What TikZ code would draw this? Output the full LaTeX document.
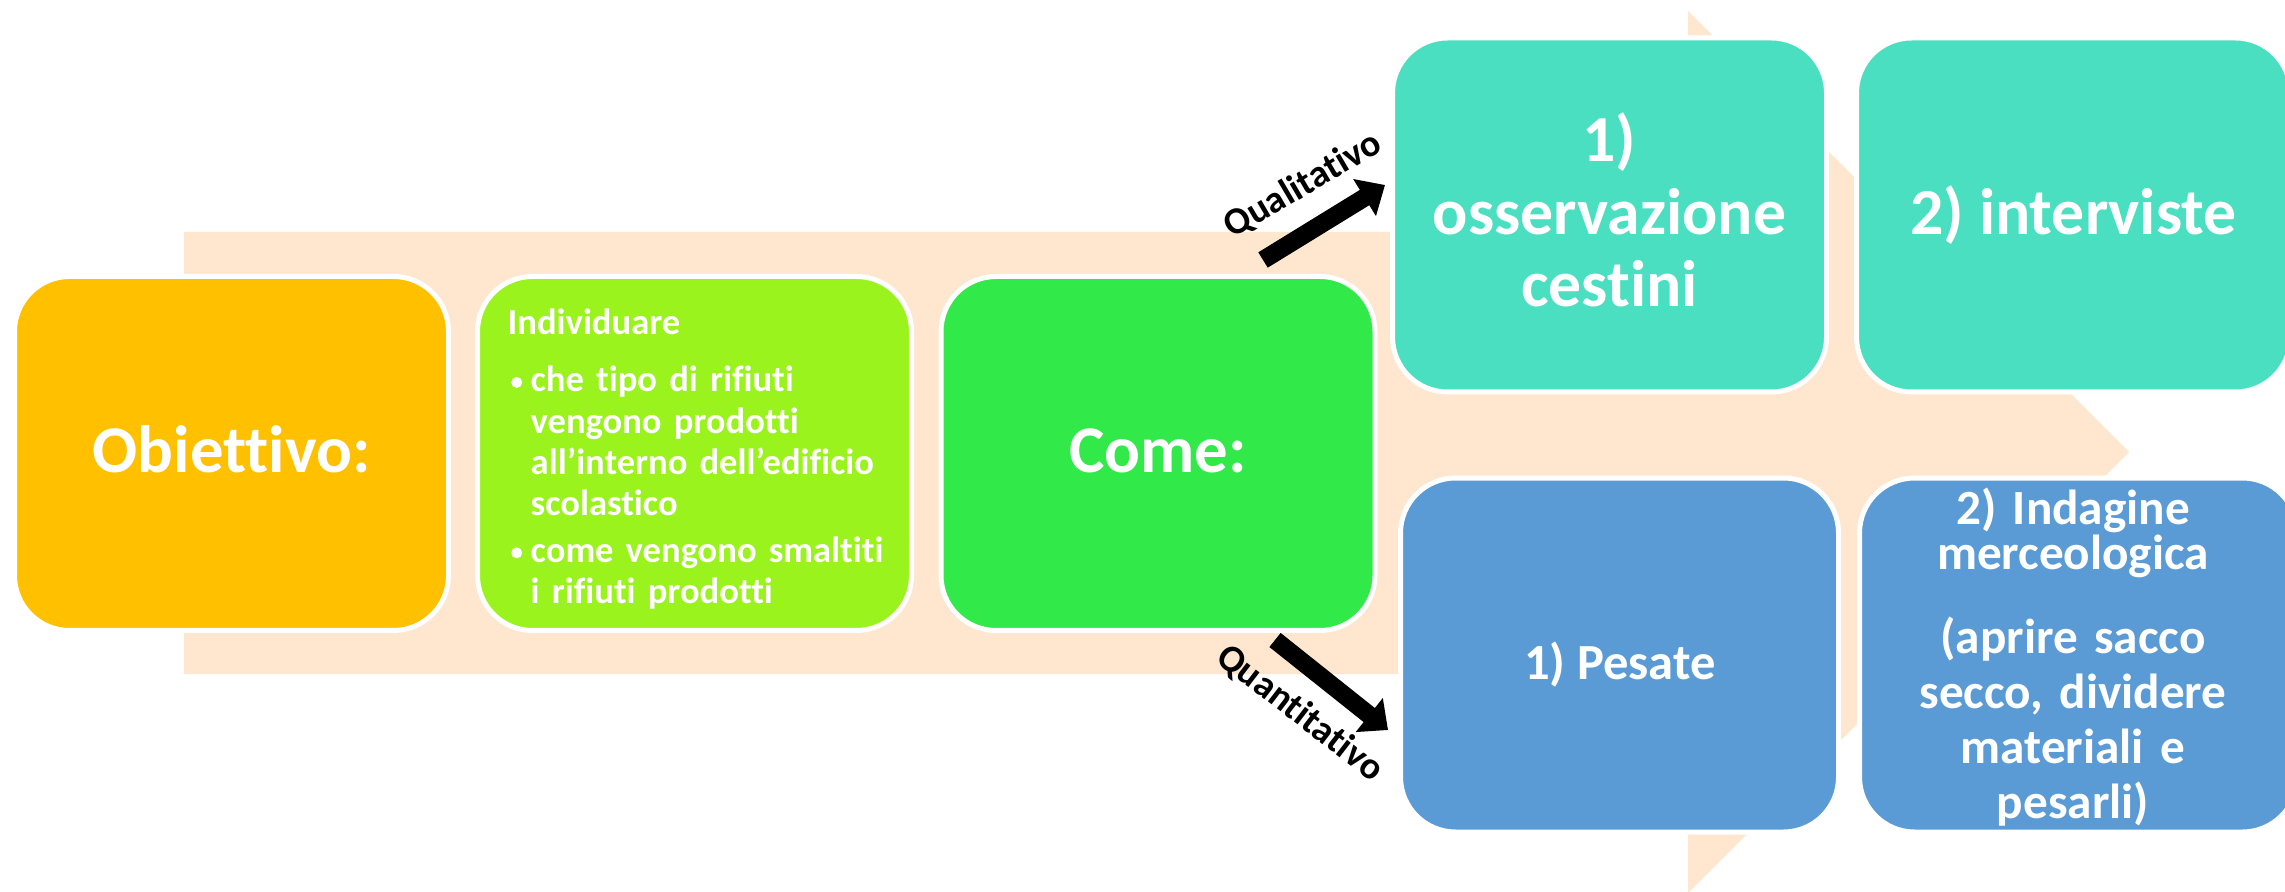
\documentclass[tikz,border=0pt]{standalone}
\usepackage{fontspec}
\setmainfont{Carlito}[Ligatures={TeX,NoCommon}]
\usetikzlibrary{arrows.meta}
\definecolor{peach}{RGB}{254,231,206}
\definecolor{orangeb}{RGB}{255,192,0}
\definecolor{limeb}{RGB}{154,243,29}
\definecolor{greenb}{RGB}{50,233,74}
\definecolor{tealb}{RGB}{74,223,192}
\definecolor{blueb}{RGB}{91,155,213}
\newcommand{\mybul}{\makebox[2.3mm][l]{\hspace*{0.35mm}\tikz[baseline=0pt]\fill[white] (0.55mm,0.95mm) circle (0.55mm);}}
\begin{document}
\begin{tikzpicture}[x=0.1mm,y=-0.1mm,
  box/.style={draw=white, line width=0.5mm, rounded corners=5.5mm, minimum width=43.4mm, minimum height=35.4mm, inner sep=0pt},
  txt/.style={text=white, align=center, inner sep=0pt},
  bigarrow/.style={line width=1.8mm, -{Triangle[width=4.2mm,length=2.4mm]}, black},
  lbl/.style={font=\bfseries\fontsize{10.8}{12}\selectfont, inner sep=0pt, text=black}]
\clip (0,0) rectangle (2285,892);
\fill[white] (0,0) rectangle (2285,892);
% background process arrow
\fill[peach] (184,232) -- (1688,232) -- (1688,11) -- (2129,452) -- (1688,893) -- (1688,674) -- (184,674) -- cycle;
% boxes
\node[box, fill=orangeb] (obj) at (231.5,453.5) {};
\node[box, fill=limeb] (ind) at (694.5,453.5) {};
\node[box, fill=greenb] (come) at (1158,453.5) {};
\node[box, fill=tealb] (t1) at (1609.5,215) {};
\node[box, fill=tealb] (t2) at (2073.5,215) {};
\node[box, fill=blueb, minimum width=43.8mm] (b1) at (1619.5,655) {};
\node[box, fill=blueb, minimum width=43.8mm] (b2) at (2078.5,655) {};
% texts
\node[txt, anchor=base, font=\bfseries\fontsize{19}{22}\selectfont] (objt) at (231.5,473) {Obiettivo:};
\node[txt, anchor=base, font=\bfseries\fontsize{19}{22}\selectfont] (comet) at (1158,473) {Come:};
\node[anchor=base west, text width=40mm, align=left, inner sep=0pt, text=white, font=\bfseries\fontsize{10.4}{11.7}\selectfont] (indt) at (507,335) {Individuare\\[4.5pt]
\mybul che tipo di rifiuti\\
\hspace*{2.3mm}vengono prodotti\\
\hspace*{2.3mm}all’interno dell’edificio\\
\hspace*{2.3mm}scolastico\\[1.7pt]
\mybul come vengono smaltiti\\
\hspace*{2.3mm}i rifiuti prodotti};
\node[txt, anchor=base, text width=42mm, font=\bfseries\fontsize{18.7}{20.6}\selectfont] (t1t) at (1609.5,162) {1)\\osservazione\\cestini};
\node[txt, anchor=base, font=\bfseries\fontsize{18.7}{20.6}\selectfont] (t2t) at (2073.5,235) {2) interviste};
\node[txt, anchor=base, font=\bfseries\fontsize{14.4}{16}\selectfont] (b1t) at (1620,679) {1) Pesate};
\node[txt, anchor=base, text width=42mm, font=\bfseries\fontsize{14}{12.8}\selectfont] (b2t) at (2073,525) {2) Indagine\\merceologica\par\vspace{8.3pt}\fontsize{14}{15.6}\selectfont (aprire sacco\\secco, dividere\\materiali e\\pesarli)\par};
% connectors
\coordinate (qa) at (1263,260);
\coordinate (qb) at (1385,185);
\coordinate (na) at (1275,640);
\coordinate (nb) at (1388,730);
\draw[bigarrow] (qa) -- (qb);
\draw[bigarrow] (na) -- (nb);
\node[lbl, rotate=30.5] (qual) at (1303,185) {Qualitativo};
\node[lbl, rotate=-37.5] (quant) at (1300,713) {Quantitativo};
\end{tikzpicture}
\end{document}
